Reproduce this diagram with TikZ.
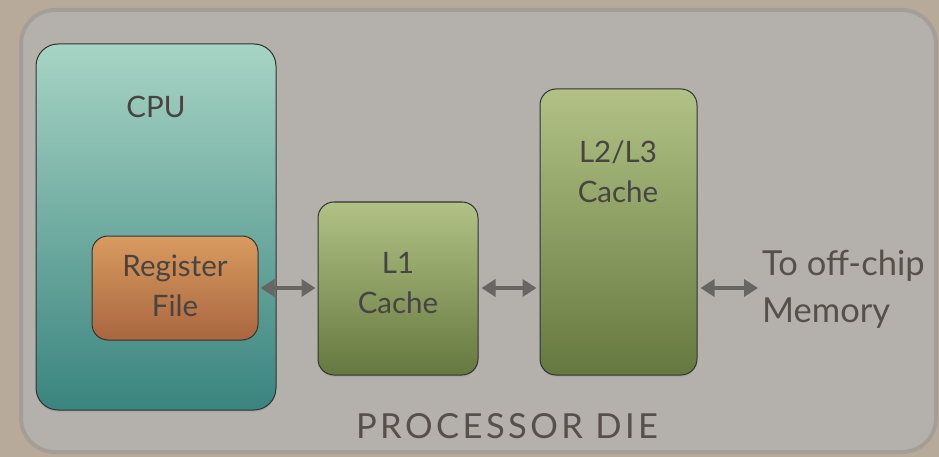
\documentclass[tikz,border=0pt]{standalone}
\usepackage{fontspec}
\setmainfont{Lato}
\usetikzlibrary{arrows.meta,shadows}

\definecolor{deskbg}{HTML}{B8AA9B}
\definecolor{panelfill}{HTML}{B4B1AD}
\definecolor{panelrim}{HTML}{A49E97}
\definecolor{boxline}{HTML}{2F3430}
\definecolor{cputop}{HTML}{A7D4C4}
\definecolor{cpubot}{HTML}{3A847F}
\definecolor{regtop}{HTML}{D99B5F}
\definecolor{regbot}{HTML}{A9663F}
\definecolor{cachetop}{HTML}{B2C285}
\definecolor{cachebot}{HTML}{65783F}
\definecolor{labeltext}{HTML}{474442}
\definecolor{paneltext}{HTML}{57504A}
\definecolor{arrowgray}{HTML}{686664}

\begin{document}
\begin{tikzpicture}[x=1pt,y=-1pt,
  box/.style={draw=boxline, line width=1pt, inner sep=0pt, rounded corners=16pt,
    drop shadow={opacity=0.18, shadow xshift=0pt, shadow yshift=-2pt}},
  cpubox/.style={box, rounded corners=22pt, top color=cputop, bottom color=cpubot},
  regbox/.style={box, top color=regtop, bottom color=regbot},
  cachebox/.style={box, top color=cachetop, bottom color=cachebot},
  lbl/.style={text=labeltext, align=center, inner sep=0pt,
    font=\fontsize{29.5}{39.5}\selectfont},
  link/.style={draw=arrowgray, line width=4.5pt,
    {Triangle[length=14pt,width=17pt]}-{Triangle[length=14pt,width=17pt]}}]

  % backdrop and die outline
  \useasboundingbox (0,0) rectangle (939,457);
  \fill[deskbg] (0,0) rectangle (939,457);
  \filldraw[fill=panelfill, draw=panelrim, line width=4pt, rounded corners=34pt]
    (21,10) rectangle (936,452);

  % blocks
  \node[cpubox, minimum width=240pt, minimum height=366pt] (cpu) at (156,227) {};
  \node[lbl] (cpulbl) at (156,107) {CPU};
  \node[regbox, minimum width=166pt, minimum height=104pt] (reg) at (175,288) {};
  \node[lbl] (reglbl) at (175,286) {Register\\File};
  \node[cachebox, minimum width=160pt, minimum height=173pt] (l1) at (398,288.5) {};
  \node[lbl] (l1lbl) at (398,283) {L1\\Cache};
  \node[cachebox, minimum width=157pt, minimum height=286pt] (l2) at (618.5,232) {};
  \node[lbl] (l2lbl) at (618,172) {L2/L3\\Cache};

  % off-chip label
  \node[text=paneltext, align=left, anchor=west, inner sep=0pt,
    font=\fontsize{34.5}{47}\selectfont] (mem) at (762,289) {To off-chip\\Memory};

  % die caption
  \node[text=paneltext, inner sep=0pt,
    font=\fontsize{34.5}{40}\selectfont\addfontfeatures{LetterSpace=10}] (die) at (507,426) {PROCESSOR DIE};

  % data paths
  \draw[link] ([xshift=2pt]reg.east) -- ([xshift=-2pt]reg.east -| l1.west);
  \draw[link] ([xshift=3pt]l1.east |- 0,288) -- ([xshift=-3pt]l2.west |- 0,288);
  \draw[link] ([xshift=3pt]l2.east |- 0,288) -- ([xshift=-4pt]mem.west |- 0,288);
\end{tikzpicture}
\end{document}
